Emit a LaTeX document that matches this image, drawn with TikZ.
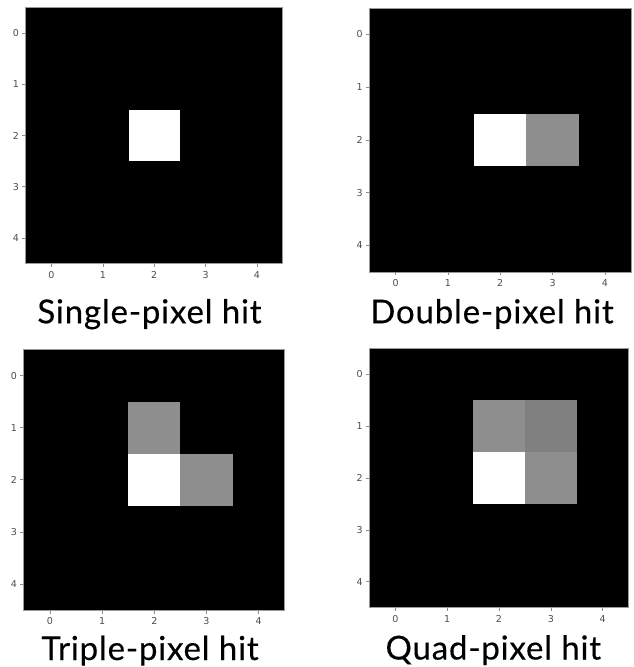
\documentclass[tikz,border=0pt]{standalone}
\usepackage{fontspec}
\newfontfamily\capfont{Lato}[LetterSpace=2.5, FakeBold=0.3]
\newfontfamily\tickfont{DejaVu Sans}
\definecolor{hitgray}{RGB}{142,142,142}
\definecolor{hitdark}{RGB}{128,128,128}
\begin{document}
\begin{tikzpicture}[
    x=1pt, y=-1pt,
    frame/.style={fill=black, draw=black!40, line width=0.8pt},
    tickmark/.style={draw=black!45, line width=0.6pt},
    ticklabel/.style={font=\tickfont\fontsize{9.5}{10}\selectfont, text=black!70, inner sep=1pt},
    caption/.style={font=\capfont\fontsize{33}{36}\selectfont, anchor=base},
    hitpix/.style={fill=white},
    sidepix/.style={fill=hitgray},
    cornerpix/.style={fill=hitdark},
]
\useasboundingbox (0,0) rectangle (634,667);

% single-pixel hit
\begin{scope}[shift={(25.7,7.5)}, x=51.4pt, y=-51.2pt]
    \fill[frame] (0,0) rectangle (5,5);
    \fill[hitpix] (2,2) rectangle (3,3);
    \foreach \i in {0,...,4} {
        \draw[tickmark] (\i+0.5,5) -- ++(0,-3.5pt) node[ticklabel, below=3pt] (ax\i) {\i};
        \draw[tickmark] (0,\i+0.5) -- ++(-3.5pt,0) node[ticklabel, left=2pt] (ay\i) {\i};
    }
\end{scope}
\node[caption] (capa) at (149.5,323.3) {Single-pixel hit};

% double-pixel hit
\begin{scope}[shift={(369.5,7.9)}, x=52.3pt, y=-52.8pt]
    \fill[frame] (0,0) rectangle (5,5);
    \fill[hitpix] (2,2) rectangle (3,3);
    \fill[sidepix] (3,2) rectangle (4,3);
    \foreach \i in {0,...,4} {
        \draw[tickmark] (\i+0.5,5) -- ++(0,-3.5pt) node[ticklabel, below=3pt] (bx\i) {\i};
        \draw[tickmark] (0,\i+0.5) -- ++(-3.5pt,0) node[ticklabel, left=2pt] (by\i) {\i};
    }
\end{scope}
\node[caption] (capb) at (492,323.3) {Double-pixel hit};

% triple-pixel hit
\begin{scope}[shift={(23.8,349.5)}, x=52.2pt, y=-52.1pt]
    \fill[frame] (0,0) rectangle (5,5);
    \fill[sidepix] (2,1) rectangle (3,2);
    \fill[hitpix] (2,2) rectangle (3,3);
    \fill[sidepix] (3,2) rectangle (4,3);
    \foreach \i in {0,...,4} {
        \draw[tickmark] (\i+0.5,5) -- ++(0,-3.5pt) node[ticklabel, below=3pt] (cx\i) {\i};
        \draw[tickmark] (0,\i+0.5) -- ++(-3.5pt,0) node[ticklabel, left=2pt] (cy\i) {\i};
    }
\end{scope}
\node[caption] (capc) at (150,660) {Triple-pixel hit};

% quad-pixel hit
\begin{scope}[shift={(369.5,348.5)}, x=51.8pt, y=-51.8pt]
    \fill[frame] (0,0) rectangle (5,5);
    \fill[sidepix] (2,1) rectangle (3,2);
    \fill[cornerpix] (3,1) rectangle (4,2);
    \fill[hitpix] (2,2) rectangle (3,3);
    \fill[sidepix] (3,2) rectangle (4,3);
    \foreach \i in {0,...,4} {
        \draw[tickmark] (\i+0.5,5) -- ++(0,-3.5pt) node[ticklabel, below=3pt] (dx\i) {\i};
        \draw[tickmark] (0,\i+0.5) -- ++(-3.5pt,0) node[ticklabel, left=2pt] (dy\i) {\i};
    }
\end{scope}
\node[caption] (capd) at (493.3,659.5) {Quad-pixel hit};
\end{tikzpicture}
\end{document}
